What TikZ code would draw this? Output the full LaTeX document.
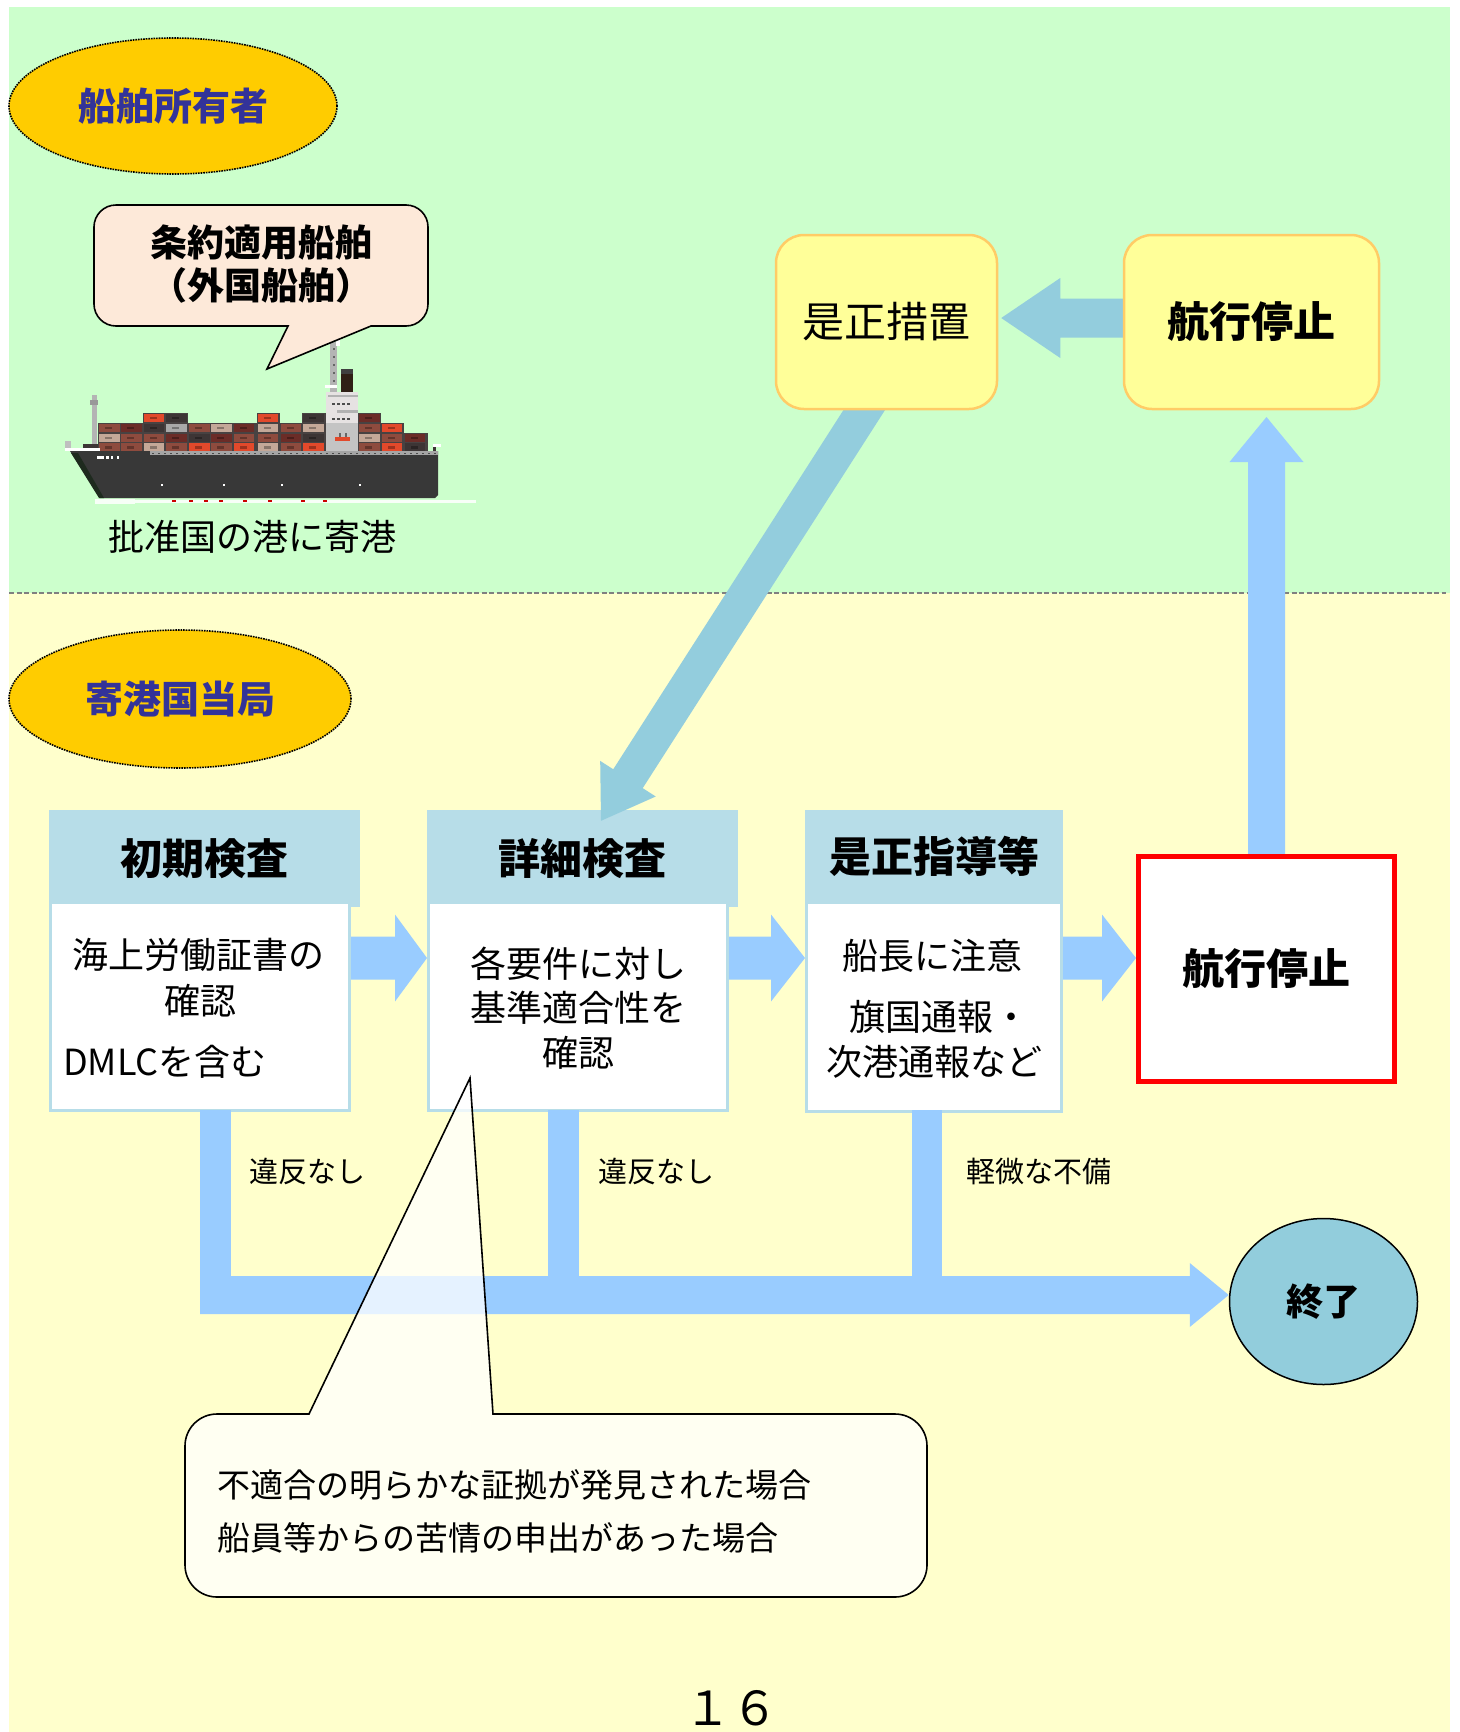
\documentclass[tikz,border=0pt]{standalone}
\usepackage{fontspec}
\setmainfont{Noto Sans CJK JP}
\usetikzlibrary{shapes.geometric,calc}
\pgfdeclarelayer{back}
\pgfdeclarelayer{boxes}
\pgfdeclarelayer{flow}
\pgfsetlayers{back,boxes,flow,main}

\definecolor{bggreen}{RGB}{204,255,204}
\definecolor{bgyellow}{RGB}{255,255,204}
\definecolor{gold}{RGB}{255,204,0}
\definecolor{navy}{RGB}{51,51,153}
\definecolor{peach}{RGB}{253,233,217}
\definecolor{paleyellow}{RGB}{255,255,153}
\definecolor{amber}{RGB}{255,204,102}
\definecolor{tealarrow}{RGB}{147,205,221}
\definecolor{sky}{RGB}{153,204,255}
\definecolor{headblue}{RGB}{183,221,232}
\definecolor{endfill}{RGB}{146,205,220}
% ship palette
\definecolor{hull}{RGB}{56,56,56}
\definecolor{bowdk}{RGB}{30,42,30}
\definecolor{deckg}{RGB}{165,165,165}
\definecolor{cbg}{RGB}{72,66,66}
\definecolor{cbr}{RGB}{142,75,62}
\definecolor{cdr}{RGB}{107,44,39}
\definecolor{ctan}{RGB}{196,168,152}
\definecolor{cor}{RGB}{226,73,43}
\definecolor{cdk}{RGB}{61,53,53}
\definecolor{cgy}{RGB}{169,169,169}
\definecolor{supw}{RGB}{230,226,226}
\definecolor{supg}{RGB}{196,196,196}
\definecolor{mastg}{RGB}{180,180,180}
\definecolor{funnel}{RGB}{48,32,22}

\newcommand\fsz[1]{\fontsize{#1}{#1}\selectfont}
% block arrow: colour, from, to, half shaft width, half head width, head length
\newcommand\blockarrow[6]{%
  \coordinate (bahead) at ($#3!#6!#2$);
  \fill[#1] ($#2!#4!90:#3$) -- ($(bahead)!#4!90:#3$) -- ($(bahead)!#5!90:#3$) -- #3
    -- ($(bahead)!#5!-90:#3$) -- ($(bahead)!#4!-90:#3$) -- ($#2!#4!-90:#3$) -- cycle;}
% one container: left x, top y, colour
\newcommand\cargo[3]{%
  \fill[#3] (#1,#2) rectangle ++(20.5,8.5);
  \fill[black,opacity=.3] (#1+6,#2+3) rectangle ++(7,2.5);}

\tikzset{
  oval/.style={ellipse, draw=black, densely dotted, line width=1.6pt, fill=gold,
    text=navy, font=\fsz{38}\bfseries},
  softbox/.style={rectangle, rounded corners=28pt, draw=amber, line width=2.5pt,
    fill=paleyellow, font=\fsz{42}},
  hdr/.style={rectangle, fill=headblue, font=\fsz{42}\bfseries},
  bodybox/.style={rectangle, fill=white, draw=headblue, line width=3pt},
  bodytxt/.style={font=\fsz{36}},
  flowlabel/.style={font=\fsz{29}},
  speech/.style={draw=black, line width=1.6pt},
}

\begin{document}
\begin{tikzpicture}[x=1pt,y=-1pt,every node/.style={inner sep=0pt}]
\useasboundingbox (0,0) rectangle (1459,1732);

% two bands: ship owner (top) and port state (bottom)
\begin{pgfonlayer}{back}
  \fill[white] (0,0) rectangle (1459,1732);
  \fill[bggreen] (9,7) rectangle (1450,593);
  \fill[bgyellow] (9,593) rectangle (1450,1732);
  \draw[gray, line width=1.2pt, dash pattern=on 5pt off 2.5pt] (9,593) -- (1446,593);
\end{pgfonlayer}

\node[oval, minimum width=328pt, minimum height=136pt] (owner) at (173,106) {船舶所有者};
\node[oval, minimum width=342pt, minimum height=138pt] (psc) at (180,699) {寄港国当局};

% container ship
\begin{scope}
  % stacks behind the boxes
  \fill[cbg] (98,422.5) rectangle (143,451);
  \fill[cbg] (142.5,412.5) rectangle (188,451);
  \fill[cbg] (188,422.5) rectangle (256.5,451);
  \fill[cbg] (256.5,412.5) rectangle (280,451);
  \fill[cbg] (279.5,422.5) rectangle (302,451);
  \fill[cbg] (302,412.5) rectangle (326,451);
  \fill[cbg] (358,412.5) rectangle (381,451);
  \fill[cbg] (380.5,422.5) rectangle (403.5,451);
  \fill[cbg] (403.5,432.5) rectangle (428,451);
  \cargo{99}{423.5}{cbr}\cargo{99}{433.5}{ctan}\cargo{99}{443}{cbr}
  \cargo{121}{423.5}{cdr}\cargo{121}{433.5}{cbr}\cargo{121}{443}{cbr}
  \cargo{143.5}{413.5}{cor}\cargo{143.5}{423.5}{cdk}\cargo{143.5}{433.5}{cbr}\cargo{143.5}{443}{ctan}
  \cargo{166}{413.5}{cdk}\cargo{166}{423.5}{cgy}\cargo{166}{433.5}{cdr}\cargo{166}{443}{cbr}
  \cargo{189}{423.5}{cbr}\cargo{189}{433.5}{cdk}\cargo{189}{443}{cor}
  \cargo{211}{423.5}{ctan}\cargo{211}{433.5}{cdr}\cargo{211}{443}{cbr}
  \cargo{233.5}{423.5}{cdr}\cargo{233.5}{433.5}{cbr}\cargo{233.5}{443}{cor}
  \cargo{257.5}{413.5}{cor}\cargo{257.5}{423.5}{ctan}\cargo{257.5}{433.5}{cbr}\cargo{257.5}{443}{ctan}
  \cargo{280.5}{423.5}{cbr}\cargo{280.5}{433.5}{cdr}\cargo{280.5}{443}{cbr}
  \cargo{303}{413.5}{cdk}\cargo{303}{423.5}{ctan}\cargo{303}{433.5}{cdk}\cargo{303}{443}{cor}
  \cargo{359}{413.5}{cdr}\cargo{359}{423.5}{cbr}\cargo{359}{433.5}{ctan}\cargo{359}{443}{cbr}
  \cargo{381.5}{423.5}{cor}\cargo{381.5}{433.5}{cbr}\cargo{381.5}{443}{cor}
  \cargo{404.5}{433.5}{cdr}\cargo{404.5}{443}{cdk}
  % bridge, mast and funnel
  \fill[mastg] (330,342) rectangle (337,392);
  \foreach \y in {348,356,364,372,380} \fill[black!60] (332.5,\y) rectangle ++(2,2);
  \fill[white] (336,340) rectangle (340,346);
  \fill[white] (325,385) rectangle (337,388);
  \fill[black!75] (341,369) rectangle (353,374);
  \fill[funnel] (341,374) rectangle (353,392);
  \fill[supw] (326,392) rectangle (358,423);
  \fill[supg] (326,423) rectangle (358,451);
  \fill[black!30] (328,395) rectangle (358,397);
  \fill[black!30] (337,410) rectangle (358,412.5);
  \foreach \x in {332,337,342,347} {
    \fill[black!70] (\x,403) rectangle ++(2.5,2);
    \fill[black!70] (\x,418) rectangle ++(2.5,2);}
  \fill[cor] (335,437) rectangle (350,441);
  \fill[black!60] (339,433) rectangle (341,437);
  \fill[black!60] (345,433) rectangle (347,437);
  % bow mast and fittings
  \fill[mastg] (92,395) rectangle (97,447);
  \fill[black!40] (90,400) rectangle (98,405);
  \fill[black!25] (65,441) rectangle (71,450);
  \fill[cdk] (83,444) rectangle (98,449);
  \fill[white] (65,448) rectangle (100,451);
  \fill[white] (433,444) rectangle (441,447);
  \fill[cdk] (433,447) rectangle (436,451);
  % hull
  \fill[hull] (70,451) -- (438,451) -- (438,495) -- (435,498) -- (100,498) -- cycle;
  \fill[bowdk] (71,453) -- (78,453) -- (104,498) -- (99,498) -- cycle;
  \fill[deckg] (150,451) rectangle (438,455);
  \draw[black!70, line width=1.5pt, dash pattern=on 2pt off 4pt] (152,453.5) -- (436,453.5);
  \foreach \x/\w in {97/7,106/3,110.5/2.5,117/2} \fill[white] (\x,456) rectangle ++(\w,3);
  \foreach \x in {161,223,281,359} \fill[white] (\x,484) rectangle ++(2,2);
  % waterline
  \fill[white, opacity=.85] (95,499) rectangle (135,504);
  \fill[white, opacity=.85] (135,500) rectangle (476,502.5);
  \foreach \x in {172,189,204,219,243,268,301,323} \fill[red!80!black] (\x,499.5) rectangle ++(4,2.5);
\end{scope}

% speech bubble over the ship (y grows downwards, so angle 90 points down)
\path[speech, fill=peach] (288,326) -- (267,369) -- (371,326) -- (406,326)
  arc[start angle=90, end angle=0, radius=22] -- (428,227)
  arc[start angle=0, end angle=-90, radius=22] -- (116,205)
  arc[start angle=270, end angle=180, radius=22] -- (94,304)
  arc[start angle=180, end angle=90, radius=22] -- cycle;
\node[font=\fontsize{37}{43}\selectfont\bfseries, align=center] (vessel) at (261,264.5)
  {条約適用船舶\\（外国船舶）};
\node[font=\fsz{36}] (port) at (252.5,537) {批准国の港に寄港};

% inspection stages
\begin{pgfonlayer}{boxes}
  \node[hdr, minimum width=311pt, minimum height=97pt] (h1) at (204.5,858.5) {初期検査};
  \node[hdr, minimum width=311pt, minimum height=97pt] (h2) at (582.5,858.5) {詳細検査};
  \node[hdr, minimum width=258pt, minimum height=92pt] (h3) at (934,856) {是正指導等};
  \node[bodybox, minimum width=299pt, minimum height=208pt] (b1) at (200,1006.5) {};
  \node[bodybox, minimum width=299pt, minimum height=208pt] (b2) at (578,1006.5) {};
  \node[bodybox, minimum width=255pt, minimum height=209pt] (b3) at (934,1007) {};
\end{pgfonlayer}

\node[bodytxt] (t1a) at (198,955) {海上労働証書の};
\node[bodytxt] (t1b) at (200,1001) {確認};
\node[bodytxt, anchor=west] (t1c) at (63,1062) {DMLCを含む};
\node[bodytxt] (t2a) at (578,964) {各要件に対し};
\node[bodytxt] (t2b) at (578,1008) {基準適合性を};
\node[bodytxt] (t2c) at (578,1053) {確認};
\node[bodytxt] (t3a) at (932,956) {船長に注意};
\node[bodytxt] (t3b) at (939,1017) {旗国通報・};
\node[bodytxt] (t3c) at (934,1062) {次港通報など};

% outcomes
\node[softbox, minimum width=221pt, minimum height=174pt] (fix) at (886.5,322) {是正措置};
\node[softbox, minimum width=255pt, minimum height=174pt, font=\fsz{42}\bfseries] (stopA) at (1251.5,322) {航行停止};
\node[rectangle, draw=red, line width=5pt, fill=white, minimum width=256pt, minimum height=225pt,
  font=\fsz{42}\bfseries] (stopB) at (1266.5,969) {航行停止};
\node[ellipse, draw=black, line width=1.5pt, fill=endfill, minimum width=188pt, minimum height=166pt,
  font=\fsz{37}\bfseries] (endn) at (1323.5,1301.5) {終了};

% flow arrows
\begin{pgfonlayer}{flow}
  \coordinate (a1s) at (b1.east |- 0,958);
  \coordinate (a1e) at (b2.west |- 0,958);
  \blockarrow{sky}{(a1s)}{(a1e)}{21.5pt}{43.5pt}{32pt}
  \coordinate (a2s) at (b2.east |- 0,958);
  \coordinate (a2e) at (b3.west |- 0,958);
  \blockarrow{sky}{(a2s)}{(a2e)}{21.5pt}{43.5pt}{34pt}
  \coordinate (a3s) at (b3.east |- 0,958);
  \coordinate (a3e) at (stopB.west |- 0,958);
  \blockarrow{sky}{(a3s)}{(a3e)}{21.5pt}{43.5pt}{34pt}
  % no violation / minor deficiency branches to the end
  \fill[sky] (200,1110) rectangle (231,1300);
  \fill[sky] (548,1110) rectangle (579,1290);
  \fill[sky] (912,1110) rectangle (942,1290);
  \coordinate (ns) at (200,1295);
  \coordinate (ne) at (endn.west |- 0,1295);
  \blockarrow{sky}{(ns)}{(ne)}{19pt}{32pt}{39pt}
  % detention loop
  \coordinate (us) at ($(stopB.north)+(0,12)$);
  \coordinate (ue) at (stopB.north |- 0,417);
  \blockarrow{sky}{(us)}{(ue)}{18.5pt}{37pt}{45pt}
  \coordinate (hs) at ($(stopA.west)+(10,-4)$);
  \coordinate (he) at ($(fix.east)+(3,-4)$);
  \blockarrow{tealarrow}{(hs)}{(he)}{19.5pt}{40pt}{59pt}
  \coordinate (ds) at ($(fix.south)+(-16,-10)$);
  \coordinate (de) at ($(h2.north)+(18.5,11)$);
  \blockarrow{tealarrow}{(ds)}{(de)}{17.5pt}{33pt}{50pt}
\end{pgfonlayer}

\node[flowlabel] (ok1) at (307,1171) {違反なし};
\node[flowlabel] (ok2) at (656,1171) {違反なし};
\node[flowlabel] (minor) at (1039,1171) {軽微な不備};

% conditions for a detailed inspection
\path[speech, fill=white, fill opacity=0.75] (309,1414) -- (470,1078) -- (493,1414) -- (895,1414)
  arc[start angle=270, end angle=360, radius=32] -- (927,1565)
  arc[start angle=0, end angle=90, radius=32] -- (217,1597)
  arc[start angle=90, end angle=180, radius=32] -- (185,1446)
  arc[start angle=180, end angle=270, radius=32] -- cycle;
\node[font=\fsz{33}, anchor=west] (why1) at (217,1485) {不適合の明らかな証拠が発見された場合};
\node[font=\fsz{33}, anchor=west] (why2) at (217,1538) {船員等からの苦情の申出があった場合};

\node[font=\fsz{47}, anchor=base] (page) at (731,1725) {１６};
\end{tikzpicture}
\end{document}
